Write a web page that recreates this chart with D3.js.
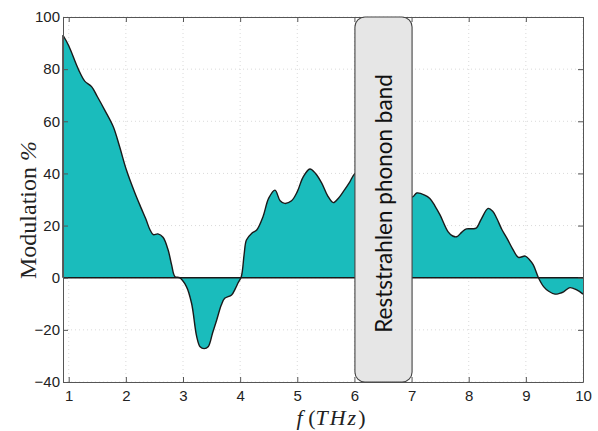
<!DOCTYPE html>
<html><head><meta charset="utf-8">
<script src="https://cdn.jsdelivr.net/npm/d3@7"></script>
<style>body{margin:0;background:#fff;} svg{display:block;}</style>
</head><body>
<svg id="chart" width="598" height="431"></svg>
<script>
const freq = [0.9,1.0,1.13,1.2,1.28,1.4,1.5,1.63,1.78,1.89,2.01,2.16,2.27,2.35,2.42,2.48,2.56,2.65,2.74,2.8,2.86,2.94,3.06,3.15,3.24,3.3,3.37,3.44,3.52,3.59,3.67,3.73,3.85,3.92,3.96,4.02,4.07,4.11,4.2,4.29,4.4,4.5,4.61,4.7,4.78,4.9,5.0,5.1,5.22,5.32,5.43,5.53,5.63,5.72,5.82,5.92,6.01,6.3,6.6,6.9,7.02,7.09,7.23,7.32,7.41,7.5,7.64,7.72,7.79,7.88,7.96,8.05,8.13,8.22,8.34,8.42,8.49,8.58,8.67,8.77,8.87,8.99,9.06,9.13,9.22,9.31,9.4,9.51,9.59,9.66,9.77,9.89,10.0];
const modulation = [93,89,82,78.5,75.4,73.3,69.5,64.3,57.9,50.3,41.3,32.4,26.6,22.5,18.5,16.5,16.8,15.5,10.6,5,0.4,0,-3.4,-9.8,-22.6,-26.5,-27.2,-26.5,-21,-16.2,-10.5,-7.9,-6.6,-4,-2.1,0.4,9,14.5,17,18.3,23.4,30.5,33.6,29.5,28.5,29.5,33,38.5,41.7,40,36.2,31.5,28.8,30.5,33.5,36.8,40,43,40,32,31,32.5,31.7,30.4,27.5,24,17.6,16,15.7,17.5,18.7,18.8,19,22.5,26.6,25.5,22.8,18.5,15.1,11,7.8,8.3,7,4.9,0,-3.4,-5.2,-6.3,-6,-5.4,-3.8,-4.7,-6.3];
const xTicks = [1,2,3,4,5,6,7,8,9,10];
const yTicks = [-40,-20,0,20,40,60,80,100];
const band = [6.0, 7.0];
const bandLabel = "Reststrahlen phonon band";
const yLabel = "Modulation";

const svg = d3.select("#chart");
const L=63, R=583, T=17, B=382;
const x = d3.scaleLinear().domain([0.9,10]).range([L,R]);
const y = d3.scaleLinear().domain([-40,100]).range([B,T]);
const data = freq.map((f,i)=>({f, m: modulation[i]}));

// grid
const g = svg.append("g");
g.selectAll(".gx").data(xTicks).enter().append("line")
  .attr("x1",d=>x(d)).attr("x2",d=>x(d)).attr("y1",T).attr("y2",B)
  .attr("stroke","#d0d0d0").attr("stroke-width",0.8).attr("stroke-dasharray","1,3");
g.selectAll(".gy").data(yTicks).enter().append("line")
  .attr("y1",d=>y(d)).attr("y2",d=>y(d)).attr("x1",L).attr("x2",R)
  .attr("stroke","#d0d0d0").attr("stroke-width",0.8).attr("stroke-dasharray","1,3");

// area
const area = d3.area().x(d=>x(d.f)).y0(y(0)).y1(d=>y(d.m)).curve(d3.curveCatmullRom.alpha(0.5));
const line = d3.line().x(d=>x(d.f)).y(d=>y(d.m)).curve(d3.curveCatmullRom.alpha(0.5));
svg.append("path").datum(data).attr("d",area).attr("fill","#1abcbc");
svg.append("path").datum(data).attr("d",line).attr("fill","none").attr("stroke","#1a1a1a").attr("stroke-width",1.4);
svg.append("line").attr("x1",L).attr("x2",R).attr("y1",y(0)).attr("y2",y(0)).attr("stroke","#1a1a1a").attr("stroke-width",1.4);
svg.append("line").attr("x1",L).attr("x2",L).attr("y1",y(0)).attr("y2",y(modulation[0])).attr("stroke","#1a1a1a").attr("stroke-width",1.4);

// axes
const axStyle = sel => { sel.select(".domain").attr("stroke","#555"); sel.selectAll(".tick line").attr("stroke","#555");
  sel.selectAll("text").attr("font-family","'Liberation Sans', Arial, sans-serif").attr("font-size",15).attr("fill","#222"); };
const fmt = d => (d<0? "\u2212"+Math.abs(d) : String(d));
svg.append("g").attr("transform",`translate(0,${B})`)
  .call(d3.axisBottom(x).tickValues(xTicks).tickSizeInner(-5).tickSizeOuter(0).tickPadding(8).tickFormat(fmt)).call(axStyle);
svg.append("g").attr("transform",`translate(${L},0)`)
  .call(d3.axisLeft(y).tickValues(yTicks).tickSizeInner(-5).tickSizeOuter(0).tickPadding(3).tickFormat(fmt)).call(axStyle);
svg.append("g").attr("transform",`translate(0,${T})`)
  .call(d3.axisTop(x).tickValues(xTicks).tickSizeInner(-5).tickSizeOuter(0).tickFormat("")).call(axStyle);
svg.append("g").attr("transform",`translate(${R},0)`)
  .call(d3.axisRight(y).tickValues(yTicks).tickSizeInner(-5).tickSizeOuter(0).tickFormat("")).call(axStyle);

// band box
svg.append("rect").attr("x",x(band[0])+0.5).attr("y",T).attr("width",x(band[1])-x(band[0])).attr("height",B-T)
  .attr("rx",10).attr("ry",10).attr("fill","#e6e6e6").attr("stroke","#444").attr("stroke-width",1.1);
const bx = (x(band[0])+x(band[1]))/2, by=(T+B)/2;
svg.append("text").attr("transform",`translate(${bx+9},${by+4}) rotate(-90)`).attr("text-anchor","middle")
  .attr("font-family","Lato, 'Open Sans', sans-serif").attr("font-size",22.5).attr("fill","#111").text(bandLabel);

// labels
const xl = svg.append("text").attr("x",331).attr("y",425).attr("text-anchor","middle")
  .attr("font-family","'Liberation Serif', 'DejaVu Serif', serif").attr("font-size",22).attr("fill","#222");
xl.append("tspan").attr("font-style","italic").text("f");
xl.append("tspan").text(" (");
xl.append("tspan").attr("font-style","italic").attr("letter-spacing",2).text("THz");
xl.append("tspan").text(")");
const yl = svg.append("text").attr("transform","translate(36,210) rotate(-90)").attr("text-anchor","middle")
  .attr("font-family","'Liberation Serif', 'DejaVu Serif', serif").attr("font-size",24).attr("fill","#222");
yl.append("tspan").text(yLabel+" ");
yl.append("tspan").attr("font-style","italic").text("%");
</script>
</body></html>
